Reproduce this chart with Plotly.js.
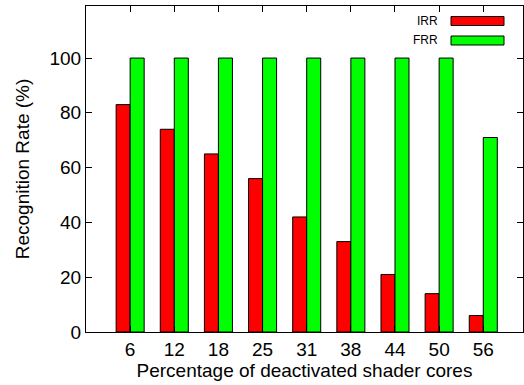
<!DOCTYPE html>
<html><head><meta charset="utf-8">
<script src="https://cdn.plot.ly/plotly-3.0.1.min.js"></script>
<style>html,body{margin:0;padding:0;background:#fff}#c{width:524px;height:385px}</style>
</head><body><div id="c"></div>
<script>
const categories = ["6","12","18","25","31","38","44","50","56"];
const irr = [83, 74, 65, 56, 42, 33, 21, 14, 6];
const frr = [100, 100, 100, 100, 100, 100, 100, 100, 71];
const seriesNames = ["IRR", "FRR"];
const seriesColors = ["#ff0000", "#00ff00"];
const yTicks = [0, 20, 40, 60, 80, 100];

const xs = categories.map((_, i) => i);
const font = {family: "Liberation Sans, Arial, sans-serif", color: "#000"};
const F = s => Object.assign({size: s}, font);

const traces = [irr, frr].map((vals, k) => ({
  type: "bar", x: xs, y: vals, name: seriesNames[k],
  marker: {color: seriesColors[k], line: {color: "#000", width: 1}},
  showlegend: false, hoverinfo: "skip"
}));

const shapes = [], annotations = [];
seriesNames.forEach((n, k) => {
  const y0 = 1 - (15 + k*19.5)/326;
  shapes.push({type: "rect", xref: "paper", yref: "paper",
    x0: (451-86)/437, x1: (504-86)/437, y0: y0 - 4.5/326, y1: y0 + 4.5/326,
    fillcolor: seriesColors[k], line: {color: "#000", width: 1}});
  annotations.push({xref: "paper", yref: "paper", x: (440-86)/437, y: y0,
    xanchor: "right", yanchor: "middle", showarrow: false, text: n,
    font: F(12)});
});

const layout = {
  width: 524, height: 385,
  margin: {l: 86, r: 1, t: 6, b: 53},
  paper_bgcolor: "#fff", plot_bgcolor: "#fff",
  font: F(19),
  barmode: "group", bargap: 0.365, bargroupgap: 0,
  xaxis: {
    range: [-1, 8.9], tickvals: xs, ticktext: categories,
    ticks: "inside", ticklen: 6, tickcolor: "#000", mirror: "ticks",
    showline: true, linecolor: "#000", linewidth: 1, showgrid: false, zeroline: false,
    tickfont: F(19),
    title: {text: "Percentage of deactivated shader cores", font: F(19), standoff: 0}
  },
  yaxis: {
    range: [0, 119], tickvals: yTicks,
    ticks: "inside", ticklen: 6, tickcolor: "#000", mirror: "ticks",
    showline: true, linecolor: "#000", linewidth: 1, showgrid: false, zeroline: false,
    tickfont: F(19),
    title: {text: "Recognition Rate (%)", font: F(19), standoff: 14}
  },
  shapes: shapes, annotations: annotations, showlegend: false
};
Plotly.newPlot("c", traces, layout, {displayModeBar: false, staticPlot: true});
</script></body></html>
